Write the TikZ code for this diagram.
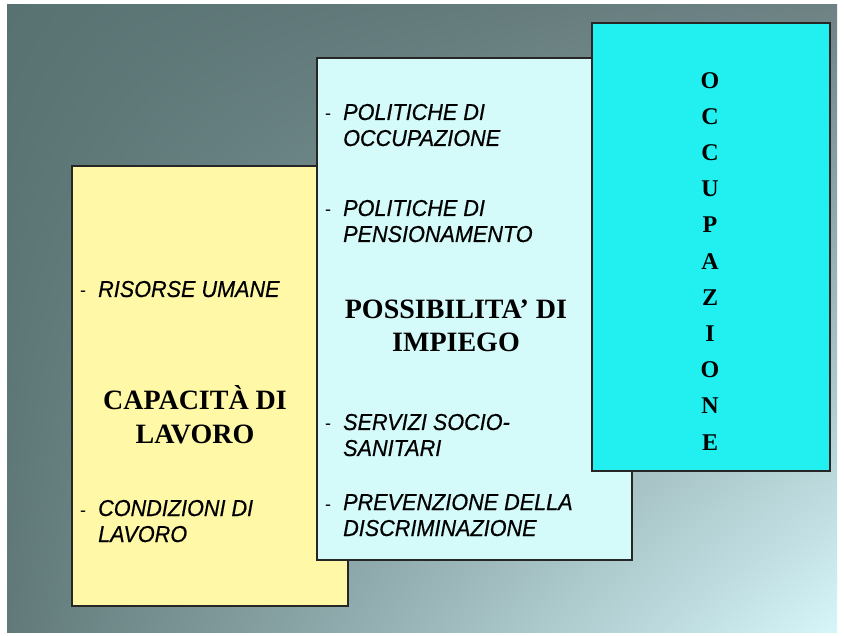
\documentclass[tikz,border=0pt]{standalone}
\usepackage{fontspec}
\usetikzlibrary{shadings}
\setmainfont{Liberation Serif}
\newfontfamily\itemfont[FakeStretch=0.94,FakeBold=0.5]{Liberation Sans}
\newfontfamily\dashfont{Liberation Sans}
\definecolor{bgA}{HTML}{587272}
\definecolor{bgB}{HTML}{6E8284}
\definecolor{bgC}{HTML}{617979}
\definecolor{bgD}{HTML}{D6F6FA}
\definecolor{yel}{HTML}{FFF8A6}
\definecolor{lcyan}{HTML}{D4FAFA}
\definecolor{aqua}{HTML}{22F0F0}
\tikzset{
  box/.style={draw=black!85, line width=1.8pt, inner sep=0pt, outer sep=0pt, anchor=north west},
  itm/.style={font=\itemfont\itshape\fontsize{23}{26}\selectfont, align=left, inner sep=0pt, anchor=base west},
  dashmark/.style={font=\dashfont\fontsize{18}{26}\selectfont, inner sep=0pt, anchor=base west},
  title/.style={font=\bfseries\fontsize{28}{33.5}\selectfont, align=center, inner sep=0pt, anchor=base},
  vtitle/.style={font=\bfseries\fontsize{24}{36.2}\selectfont, align=center, inner sep=0pt, anchor=base}
}
\begin{document}
\begin{tikzpicture}[x=1pt,y=-1pt]
\useasboundingbox (0,0) rectangle (844,636);
\fill[white] (0,0) rectangle (844,636);
\shade[upper left=bgA, upper right=bgB, lower left=bgC, lower right=bgD] (7,5) rectangle (837,632);
% boxes
\node[box, fill=yel, minimum width=276pt, minimum height=440pt] (cap) at (72,166) {};
\node[box, fill=lcyan, minimum width=315pt, minimum height=502pt] (poss) at (317,58) {};
\node[box, fill=aqua, minimum width=238pt, minimum height=448pt] (occ) at (592,23) {};
% yellow box texts (multi-line nodes are placed by their last baseline)
\node[dashmark] (d1) at (80,297) {-};
\node[itm] (t1) at (98,297) {RISORSE UMANE};
\node[title] (captitle) at (195,443) {CAPACITÀ DI\\LAVORO};
\node[dashmark] (d2) at (80,516) {-};
\node[itm] (t2) at (98,542) {CONDIZIONI DI\\LAVORO};
% light cyan box texts
\node[dashmark] (d3) at (325,120) {-};
\node[itm] (t3) at (343,146) {POLITICHE DI\\OCCUPAZIONE};
\node[dashmark] (d4) at (325,216) {-};
\node[itm] (t4) at (343,242) {POLITICHE DI\\PENSIONAMENTO};
\node[title] (posstitle) at (456,352) {POSSIBILITA’ DI\\IMPIEGO};
\node[dashmark] (d5) at (325,430) {-};
\node[itm] (t5) at (343,456) {SERVIZI SOCIO-\\SANITARI};
\node[dashmark] (d6) at (325,510) {-};
\node[itm] (t6) at (343,536) {PREVENZIONE DELLA\\DISCRIMINAZIONE};
% aqua box text
\node[vtitle] (occtitle) at (710,450) {O\\C\\C\\U\\P\\A\\Z\\I\\O\\N\\E};
\end{tikzpicture}
\end{document}
